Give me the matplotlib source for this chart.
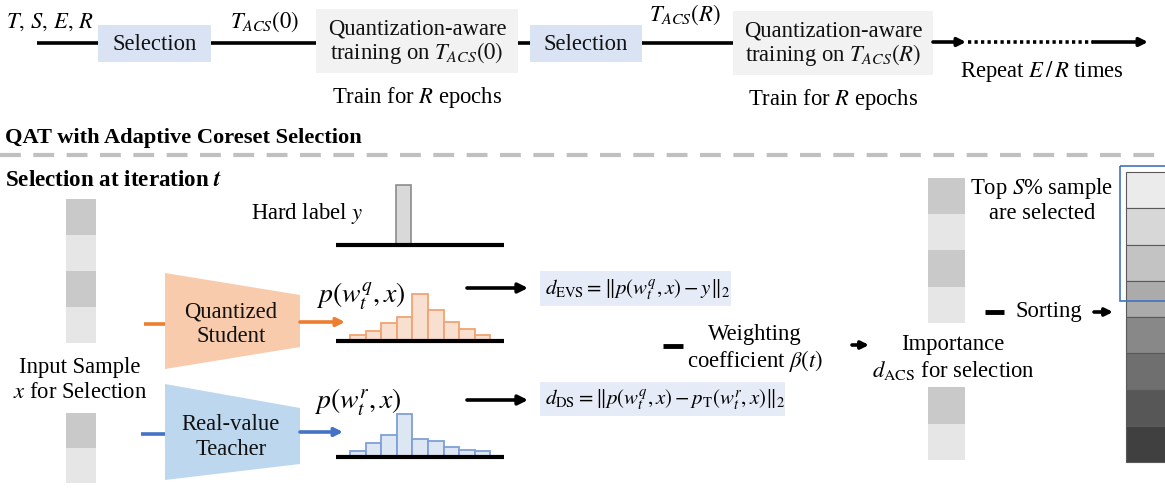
"""QAT with Adaptive Coreset Selection - pipeline diagram."""

import matplotlib
matplotlib.use("Agg")
import matplotlib.pyplot as plt
from matplotlib.patches import Rectangle, Polygon

plt.rcParams["font.family"] = ["Liberation Serif", "DejaVu Serif"]
plt.rcParams["mathtext.fontset"] = "stix"

# ---- data ----
student_hist = [6, 10, 18, 24, 47, 31, 19, 12, 6]
teacher_hist = [6, 14, 22, 43, 18, 16, 10, 7, 6]
input_top_shades = ["#c9c9c9", "#e6e6e6", "#c9c9c9", "#e6e6e6"]
input_bottom_shades = ["#c9c9c9", "#e6e6e6"]
sorted_shades = ["#ebebeb", "#d7d7d7", "#c3c3c3", "#ababab",
                 "#888888", "#6f6f6f", "#575757", "#404040"]

fig = plt.figure(figsize=(11.65, 4.89), dpi=100)
ax = fig.add_axes([0, 0, 1, 1])
ax.set_xlim(0, 1165)
ax.set_ylim(489, 0)
ax.axis("off")

FS = 16.3
TXT = "#111111"


def hline(x0, x1, y, lw=2.6, **kw):
    ax.plot([x0, x1], [y, y], color=kw.pop("color", "black"), lw=lw,
            solid_capstyle="butt", **kw)


def arrow(x0, x1, y, color="black", lw=2.6, ms=14):
    ax.annotate("", xy=(x1, y), xytext=(x0, y),
                arrowprops=dict(arrowstyle="-|>", color=color, lw=lw,
                                mutation_scale=ms, shrinkA=0, shrinkB=0))


def box(x, y, w, h, color):
    ax.add_patch(Rectangle((x, y), w, h, facecolor=color, edgecolor="none"))


def column(x, y0, w, h, shades, edge="none"):
    for i, c in enumerate(shades):
        ax.add_patch(Rectangle((x, y0 + i * h), w, h, facecolor=c,
                               edgecolor=edge, lw=0.8))


def hist(values, x0, width, base, face, edge):
    xs = [x0 + i * width for i in range(len(values))]
    ax.bar(xs, [-v for v in values], width=width, bottom=base, align="edge",
           color=face, edgecolor=edge, linewidth=1.3)


# ---------------- top row ----------------
ax.text(50, 22, r"$T,\,S,\,E,\,R$", fontsize=FS, ha="center", va="center")
hline(37, 98, 44)
box(98, 26, 113, 37, "#dae3f3")
ax.text(155, 45, "Selection", fontsize=FS, ha="center", va="center", color=TXT)
hline(211, 316, 44)
ax.text(265, 22, r"$T_{ACS}(0)$", fontsize=FS, ha="center", va="center")
box(316, 10, 202, 64, "#f2f2f2")
ax.text(417, 42, "Quantization-aware\ntraining on $T_{ACS}(0)$", fontsize=FS,
        ha="center", va="center", color=TXT, linespacing=1.05)
ax.text(417, 98, "Train for $R$ epochs", fontsize=FS, ha="center", va="center")

hline(518, 530, 44)
box(530, 26, 112, 37, "#dae3f3")
ax.text(586, 45, "Selection", fontsize=FS, ha="center", va="center", color=TXT)
hline(642, 733, 44)
ax.text(685, 15, r"$T_{ACS}(R)$", fontsize=FS, ha="center", va="center")
box(733, 12, 200, 64, "#f2f2f2")
ax.text(833, 44, "Quantization-aware\ntraining on $T_{ACS}(R)$", fontsize=FS,
        ha="center", va="center", color=TXT, linespacing=1.05)
ax.text(833, 100, "Train for $R$ epochs", fontsize=FS, ha="center", va="center")

arrow(933, 966, 43, ms=12)
ax.plot([968, 1093], [43, 43], color="black", lw=2.6, linestyle=(0, (0.9, 0.9)))
arrow(1093, 1148, 43, ms=12)
ax.text(1042, 72, r"Repeat $E\,/\,R$ times", fontsize=FS, ha="center", va="center")

# ---------------- section headers ----------------
ax.text(5, 138, "QAT with Adaptive Coreset Selection", fontsize=16.1, weight="bold",
        ha="left", va="center")
ax.plot([0, 1165], [156, 156], color="#c0c0c0", lw=3, linestyle=(0, (5, 3)))
ax.text(5, 181, r"Selection at iteration $\boldsymbol{t}$", fontsize=16.6,
        weight="bold", ha="left", va="center")

# ---------------- input samples ----------------
column(66, 200, 30, 36, input_top_shades)
column(66, 414, 30, 35, input_bottom_shades)
ax.text(80, 380, "Input Sample\n$x$ for Selection", fontsize=FS, ha="center",
        va="center", linespacing=1.2)

# hard label
ax.text(307, 213, "Hard label $y$", fontsize=FS, ha="center", va="center")
ax.add_patch(Rectangle((396, 186), 15, 60, facecolor="#d9d9d9",
                       edgecolor="#8c8c8c", lw=1.2))
hline(336, 504, 246, lw=3)

# student / teacher
ax.add_patch(Polygon([(165, 274), (300, 296), (300, 348), (165, 370)],
                     closed=True, facecolor="#f8cbad", edgecolor="none"))
ax.text(231, 324, "Quantized\nStudent", fontsize=FS, ha="center", va="center",
        color=TXT, linespacing=1.2)
hline(144, 165, 325, color="#ed7d31")
arrow(300, 345, 323, color="#ed7d31", ms=12)

ax.add_patch(Polygon([(165, 385), (300, 409), (300, 465), (165, 481)],
                     closed=True, facecolor="#bdd7ee", edgecolor="none"))
ax.text(231, 437, "Real-value\nTeacher", fontsize=FS, ha="center", va="center",
        color=TXT, linespacing=1.2)
hline(141, 165, 435, color="#4472c4")
arrow(300, 343, 433, color="#4472c4", ms=12)

# output distributions
ax.text(361, 296, r"$p(w_t^q, x)$", fontsize=20, ha="center", va="center")
hist(student_hist, 350, 15.6, 342, "#f9dfd0", "#f0a473")
hline(336, 504, 342, lw=3)
ax.text(358, 402, r"$p(w_t^r, x)$", fontsize=20, ha="center", va="center")
hist(teacher_hist, 350, 15.6, 458, "#dde7f4", "#7f9fd6")
hline(336, 504, 458, lw=3)

arrow(467, 528, 289)
arrow(467, 528, 401)

# distance boxes
box(540, 272, 191, 35, "#e6ecf7")
ax.text(545, 290, r"$d_{\mathrm{EVS}} =\|p(w_t^q, x) - y\|_2$",
        fontsize=15, ha="left", va="center")
box(540, 383, 245, 34, "#e6ecf7")
ax.text(545, 400, r"$d_{\mathrm{DS}} =\|p(w_t^q, x) - p_{\mathrm{T}}(w_t^r, x)\|_2$",
        fontsize=15, ha="left", va="center")

# weighting
hline(663, 683, 347, lw=3.5)
ax.text(755, 349, "Weighting\n" r"coefficient $\beta(t)$", fontsize=FS,
        ha="center", va="center", linespacing=1.2)
arrow(852, 869, 346, ms=11)

# importance
column(928, 179, 37, 36.2, input_top_shades)
column(928, 388, 37, 36.5, input_bottom_shades)
ax.text(953, 358, "Importance\n$d_{\\mathrm{ACS}}$ for selection", fontsize=FS,
        ha="center", va="center", linespacing=1.25)
ax.text(1042, 200, "Top $S$% sample\nare selected", fontsize=FS, ha="center",
        va="center", linespacing=1.15)
hline(985, 1004, 313, lw=3.5)
ax.text(1049, 311, "Sorting", fontsize=FS, ha="center", va="center")
arrow(1094, 1113, 313, ms=11)

# sorted samples
column(1126, 173, 45, 36.25, sorted_shades, edge="#5a5a5a")
ax.add_patch(Rectangle((1120, 167), 60, 135, facecolor="none",
                       edgecolor="#4472c4", lw=1.2))

fig.savefig("out.png", dpi=100)
